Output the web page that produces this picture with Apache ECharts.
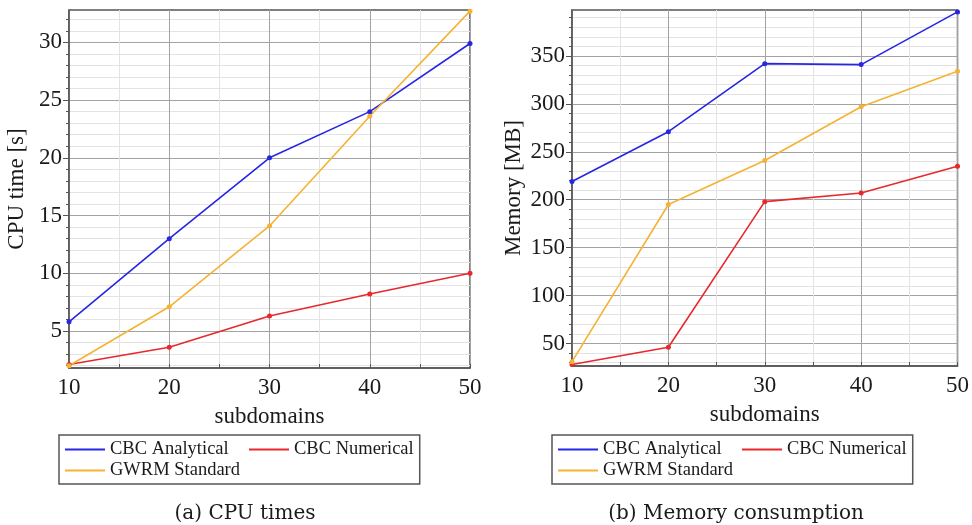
<!DOCTYPE html>
<html>
<head>
<meta charset="utf-8">
<script src="https://cdn.jsdelivr.net/npm/echarts@6/dist/echarts.min.js"></script>
<style>
  html, body { margin: 0; padding: 0; background: #fff; }
  #chart { width: 972px; height: 525px; }
</style>
</head>
<body>
<div id="chart"></div>
<script>
// x values (number of subdomains)
const subdomains = [10, 20, 30, 40, 50];

// (a) CPU times [s]
const cpuAnalytical = [5.8, 13.0, 20.0, 24.0, 29.9];
const cpuNumerical = [2.1, 3.6, 6.3, 8.2, 10.0];
const cpuGwrm = [2.0, 7.1, 14.1, 23.6, 32.7];

// (b) Memory consumption [MB]
const memAnalytical = [219, 271, 342, 341, 396];
const memNumerical = [28, 46, 198, 207, 235];
const memGwrm = [31, 195, 241, 297, 334];

// tick labels
const cpuTicks = [5, 10, 15, 20, 25, 30];
const memTicks = [50, 100, 150, 200, 250, 300, 350];

const SERIES_NAMES = ['CBC Analytical', 'CBC Numerical', 'GWRM Standard'];
const COLORS = ['#2626e4', '#e8282c', '#f5b233'];

const AXIS_FONT = { fontFamily: 'Liberation Serif', fontSize: 23, color: '#1a1a1a' };
const FRAME = '#555';
const MAJOR_GRID = '#a3a3a3';
const MINOR_GRID = '#e3e3e3';

// minor grid values: every `step` between the range ends, skipping the labelled ones
function minorValues(lo, hi, step, majors) {
  const out = [];
  for (let v = Math.ceil(lo / step) * step; v < hi; v += step) {
    if (majors.indexOf(v) < 0) out.push(v);
  }
  return out;
}

const cpuRange = [1.8, 32.8];
const memRange = [26.5, 398];
const cpuMinor = minorValues(cpuRange[0], cpuRange[1], 1, cpuTicks);
const memMinor = minorValues(memRange[0], memRange[1], 10, memTicks);

function xAxisFor(gridIndex) {
  return {
    type: 'value',
    gridIndex,
    min: 10,
    max: 50,
    interval: 10,
    name: 'subdomains',
    nameLocation: 'middle',
    nameGap: 37,
    nameTextStyle: AXIS_FONT,
    axisLine: { show: true, lineStyle: { color: FRAME, width: 1.5 } },
    axisTick: { show: true, inside: true, length: 4, lineStyle: { color: FRAME } },
    minorTick: { show: true, splitNumber: 2, length: 4, lineStyle: { color: FRAME } },
    axisLabel: { ...AXIS_FONT, margin: 8 },
    splitLine: { show: true, lineStyle: { color: MAJOR_GRID, width: 1 } },
    minorSplitLine: { show: true, lineStyle: { color: MINOR_GRID, width: 1 } }
  };
}

function mainYAxis(gridIndex, range, ticks, name, nameGap) {
  return {
    type: 'value',
    gridIndex,
    position: 'left',
    min: range[0],
    max: range[1],
    name,
    nameLocation: 'middle',
    nameGap,
    nameTextStyle: AXIS_FONT,
    axisLine: { show: true, lineStyle: { color: FRAME, width: 1.5 } },
    axisTick: { show: true, length: 6, customValues: ticks, lineStyle: { color: FRAME } },
    axisLabel: { ...AXIS_FONT, margin: 7, customValues: ticks },
    splitLine: { show: true, lineStyle: { color: MAJOR_GRID, width: 1 } }
  };
}

function minorYAxis(gridIndex, range, values) {
  return {
    type: 'value',
    gridIndex,
    position: 'left',
    min: range[0],
    max: range[1],
    axisLine: { show: false },
    axisTick: { show: true, length: 3, customValues: values, lineStyle: { color: FRAME } },
    axisLabel: { show: false },
    splitLine: { show: true, lineStyle: { color: MINOR_GRID, width: 1 } }
  };
}

function lineSeries(name, values, color, xIdx, yIdx) {
  return {
    name,
    type: 'line',
    xAxisIndex: xIdx,
    yAxisIndex: yIdx,
    data: subdomains.map((x, i) => [x, values[i]]),
    symbol: 'circle',
    symbolSize: 5,
    showSymbol: true,
    itemStyle: { color },
    lineStyle: { color, width: 1.6 },
    z: 3
  };
}

function legendAt(left) {
  return {
    left,
    top: 435,
    width: 370,
    orient: 'horizontal',
    icon: 'rect',
    itemWidth: 40,
    itemHeight: 2,
    itemGap: 2,
    itemTextGap: 8,
    padding: [5, 6, 4, 6],
    borderColor: FRAME,
    borderWidth: 1.5,
    textStyle: { fontFamily: 'Liberation Serif', fontSize: 18.5, color: '#1a1a1a', lineHeight: 18 },
    data: [
      { name: SERIES_NAMES[0], textStyle: { width: 137 } },
      SERIES_NAMES[1],
      SERIES_NAMES[2]
    ]
  };
}

function caption(text, x) {
  return {
    type: 'text',
    x,
    y: 514,
    style: {
      text,
      font: '20px "DejaVu Serif"',
      fill: '#1a1a1a',
      align: 'center',
      verticalAlign: 'middle',
      textAlign: 'center',
      textVerticalAlign: 'middle'
    }
  };
}

const chart = echarts.init(document.getElementById('chart'), null, { renderer: 'canvas' });

chart.setOption({
  animation: false,
  backgroundColor: '#fff',
  grid: [
    { left: 69, top: 10, width: 401, height: 358, show: true, borderColor: FRAME, borderWidth: 1.5, backgroundColor: 'transparent' },
    { left: 572, top: 10, width: 390, height: 356, show: true, borderColor: FRAME, borderWidth: 1.5, backgroundColor: 'transparent' }
  ],
  xAxis: [xAxisFor(0), xAxisFor(1)],
  yAxis: [
    mainYAxis(0, cpuRange, cpuTicks, 'CPU time [s]', 41),
    minorYAxis(0, cpuRange, cpuMinor),
    mainYAxis(1, memRange, memTicks, 'Memory [MB]', 47),
    minorYAxis(1, memRange, memMinor)
  ],
  legend: [legendAt(59), legendAt(552)],
  series: [
    lineSeries(SERIES_NAMES[0], cpuAnalytical, COLORS[0], 0, 0),
    lineSeries(SERIES_NAMES[1], cpuNumerical, COLORS[1], 0, 0),
    lineSeries(SERIES_NAMES[2], cpuGwrm, COLORS[2], 0, 0),
    lineSeries(SERIES_NAMES[0], memAnalytical, COLORS[0], 1, 2),
    lineSeries(SERIES_NAMES[1], memNumerical, COLORS[1], 1, 2),
    lineSeries(SERIES_NAMES[2], memGwrm, COLORS[2], 1, 2)
  ],
  graphic: [
    caption('(a) CPU times', 245),
    caption('(b) Memory consumption', 736)
  ]
});
</script>
</body>
</html>
